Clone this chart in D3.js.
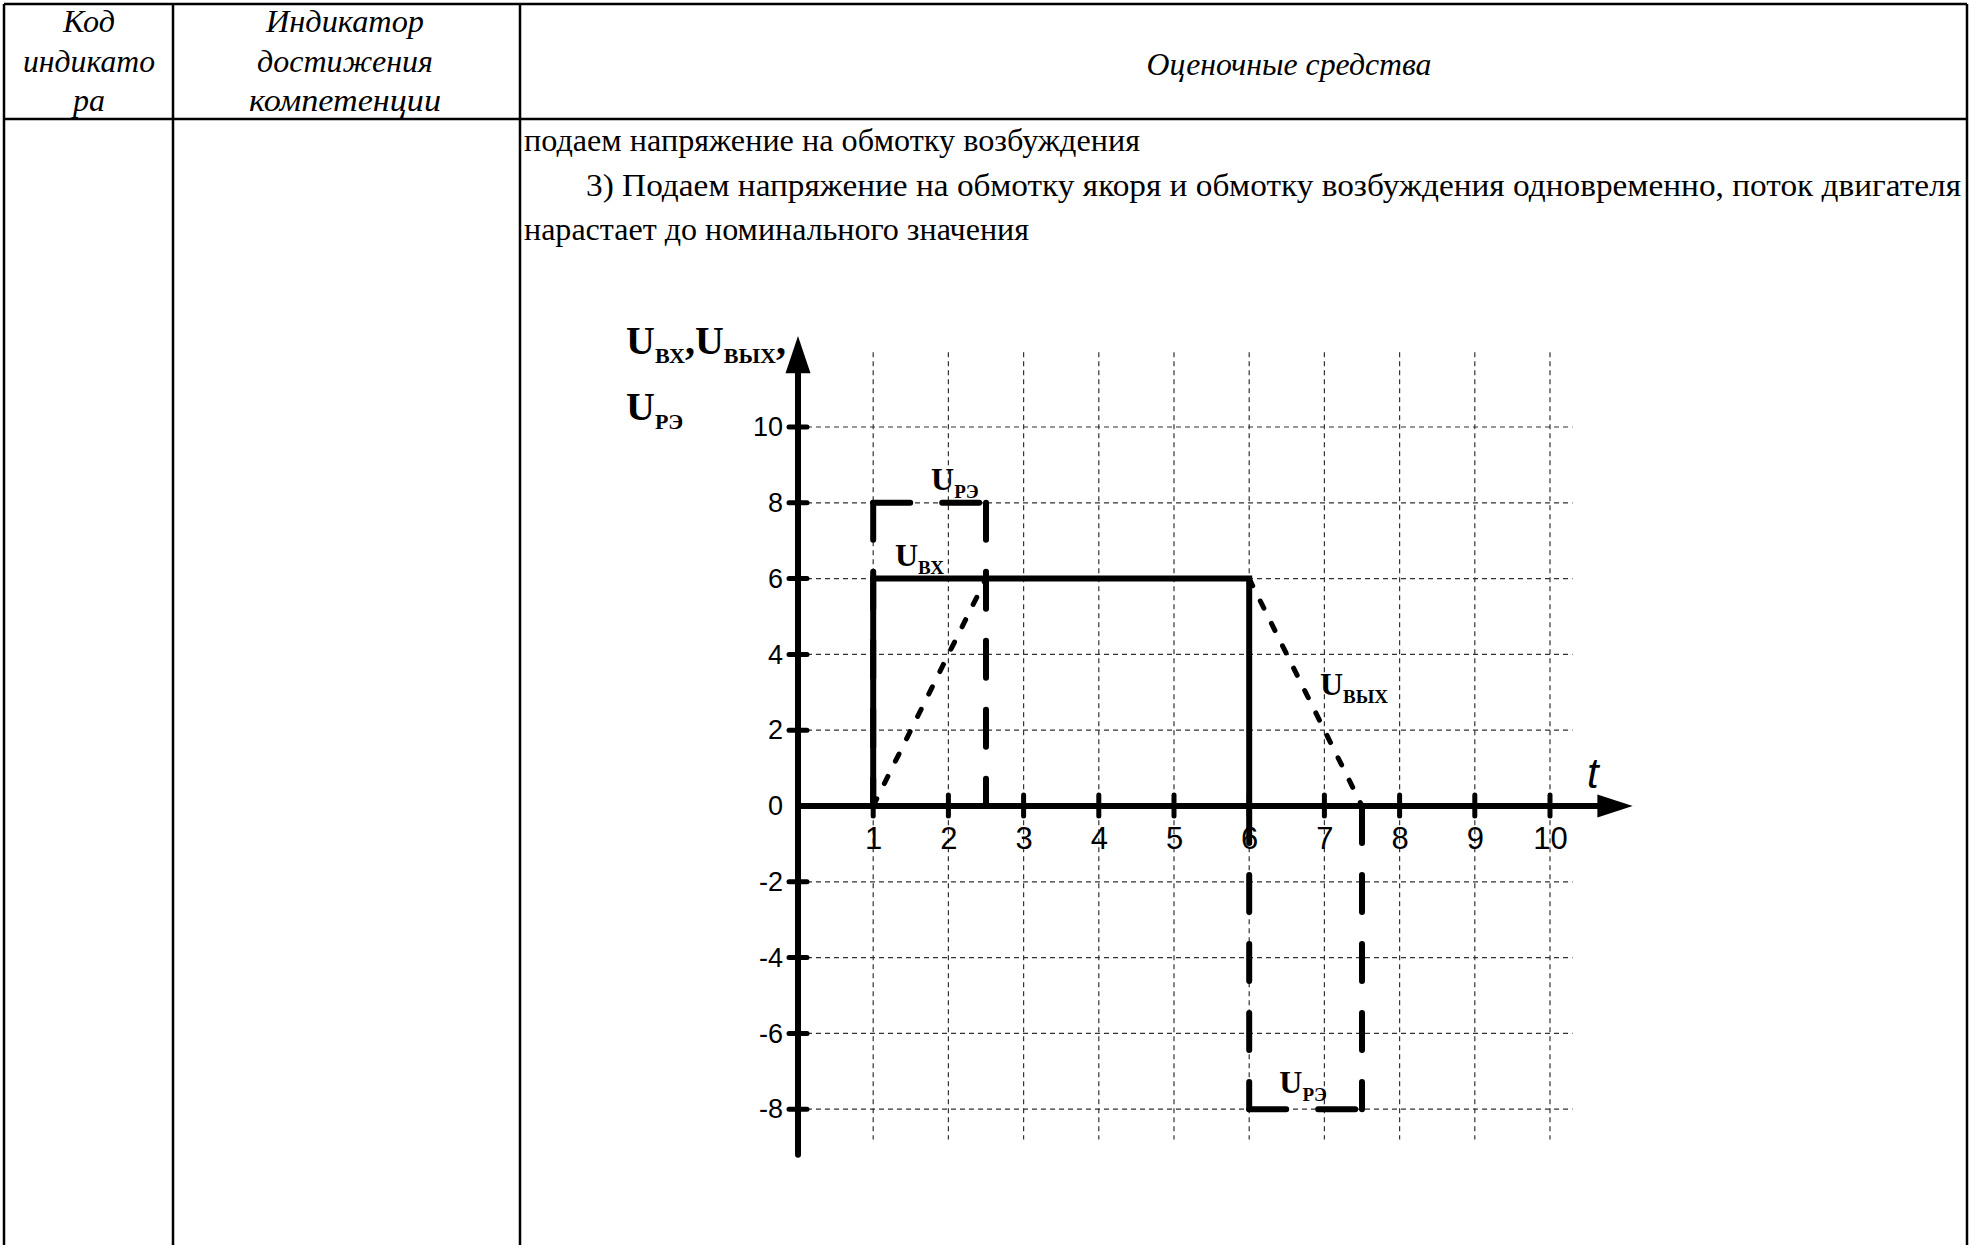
<!DOCTYPE html>
<html>
<head>
<meta charset="utf-8">
<script src="https://cdn.jsdelivr.net/npm/d3@7"></script>
<style>
  html, body { margin: 0; padding: 0; background: #fff; }
  svg { display: block; }
</style>
</head>
<body>
<div id="container"></div>
<script>
// ---- data ----
var tTicks = [1, 2, 3, 4, 5, 6, 7, 8, 9, 10];
var vTicks = [-8, -6, -4, -2, 0, 2, 4, 6, 8, 10];
var gridLevels = [-8, -6, -4, -2, 2, 4, 6, 8, 10];

// input pulse U_вх (solid)
var uInT = [1, 1, 6, 6];
var uInV = [0, 6, 6, 0];

// output U_вых (dotted ramps)
var uOutRiseT = [1, 2.5];
var uOutRiseV = [0, 6];
var uOutFallT = [6, 7.5];
var uOutFallV = [6, 0];

// regulating element U_рэ (long dashes), one segment per side
var uReFromT = [1, 1, 2.5, 6, 7.5, 6];
var uReFromV = [8, 8, 8, 0, 0, -8];
var uReToT = [2.5, 1, 2.5, 6, 7.5, 7.5];
var uReToV = [8, 0, 0, -8, -8, -8];

// curve labels (anchored in data space)
var labelSub = ["РЭ", "ВХ", "ВЫХ", "РЭ"];
var labelT = [1.77, 1.29, 6.94, 6.4];
var labelV = [8.34, 6.33, 2.93, -7.57];

// table texts
var headCol1 = ["Код", "индикато", "ра"];
var headCol2 = ["Индикатор", "достижения", "компетенции"];
var headCol3 = "Оценочные средства";
var bodyLines = [
  "подаем напряжение на обмотку возбуждения",
  "3) Подаем напряжение на обмотку якоря и обмотку возбуждения одновременно, поток двигателя",
  "нарастает до номинального значения"
];

var W = 1970, H = 1245;
var serif = "'Liberation Serif', 'Times New Roman', serif";
var sans = "'Liberation Sans', Arial, sans-serif";

var svg = d3.select("#container").append("svg")
  .attr("width", W).attr("height", H);

// ---- table frame ----
var tbl = svg.append("g").attr("stroke", "#000").attr("stroke-width", 2.5);
tbl.append("line").attr("x1", 4).attr("x2", 1967).attr("y1", 4).attr("y2", 4);
tbl.append("line").attr("x1", 4).attr("x2", 1967).attr("y1", 119).attr("y2", 119);
[4, 173, 520, 1967].forEach(function (cx) {
  tbl.append("line").attr("x1", cx).attr("x2", cx).attr("y1", 4).attr("y2", H);
});

// header texts (italic)
var headBase = [32, 72, 111];
var col1Len = [52, 132, 32];
var col2Len = [158, 176, 192];
headCol1.forEach(function (s, i) {
  svg.append("text").attr("x", 89).attr("y", headBase[i])
    .attr("text-anchor", "middle").attr("font-family", serif)
    .attr("font-style", "italic").attr("font-size", 31)
    .attr("textLength", col1Len[i]).attr("lengthAdjust", "spacingAndGlyphs")
    .text(s);
});
headCol2.forEach(function (s, i) {
  svg.append("text").attr("x", 345).attr("y", headBase[i])
    .attr("text-anchor", "middle").attr("font-family", serif)
    .attr("font-style", "italic").attr("font-size", 31)
    .attr("textLength", col2Len[i]).attr("lengthAdjust", "spacingAndGlyphs")
    .text(s);
});
svg.append("text").attr("x", 1289).attr("y", 75)
  .attr("text-anchor", "middle").attr("font-family", serif)
  .attr("font-style", "italic").attr("font-size", 31)
  .attr("textLength", 285).attr("lengthAdjust", "spacingAndGlyphs")
  .text(headCol3);

// body text
var bodyX = [524, 586, 524];
var bodyY = [151, 196, 240];
var bodyLen = [616, 1375, 505];
bodyLines.forEach(function (s, i) {
  svg.append("text").attr("x", bodyX[i]).attr("y", bodyY[i])
    .attr("font-family", serif).attr("font-size", 32)
    .attr("textLength", bodyLen[i]).attr("lengthAdjust", "spacingAndGlyphs")
    .text(s);
});

// ---- chart ----
var x = d3.scaleLinear().domain([0, 10]).range([798, 1550]);
var y = d3.scaleLinear().domain([0, 10]).range([806, 427]);

// dashed grid
var grid = svg.append("g").attr("stroke", "#333").attr("stroke-width", 1.2)
  .attr("stroke-dasharray", "5,4");
grid.selectAll(".gv").data(tTicks).enter().append("line")
  .attr("x1", function (d) { return x(d); }).attr("x2", function (d) { return x(d); })
  .attr("y1", y(11.97)).attr("y2", y(-8.8));
grid.selectAll(".gh").data(gridLevels).enter().append("line")
  .attr("x1", x(0)).attr("x2", x(10.3))
  .attr("y1", function (d) { return y(d); }).attr("y2", function (d) { return y(d); });

// axes lines + arrows
var ax = svg.append("g");
ax.append("line").attr("x1", x(0)).attr("x2", x(0))
  .attr("y1", y(-9.2)).attr("y2", y(11.5))
  .attr("stroke", "#000").attr("stroke-width", 6).attr("stroke-linecap", "round");
ax.append("path")
  .attr("d", "M" + (x(0) - 12.5) + "," + y(11.42) + "L" + x(0) + "," + y(12.4) + "L" + (x(0) + 12.5) + "," + y(11.42) + "Z")
  .attr("fill", "#000");
ax.append("line").attr("x1", x(0)).attr("x2", x(10.65))
  .attr("y1", y(0)).attr("y2", y(0))
  .attr("stroke", "#000").attr("stroke-width", 6);
ax.append("path")
  .attr("d", "M" + x(10.63) + "," + (y(0) - 11.5) + "L" + x(11.1) + "," + y(0) + "L" + x(10.63) + "," + (y(0) + 11.5) + "Z")
  .attr("fill", "#000");

// tick marks straddling the axes
ax.selectAll(".tx").data(tTicks).enter().append("line")
  .attr("x1", function (d) { return x(d); }).attr("x2", function (d) { return x(d); })
  .attr("y1", y(0) - 11).attr("y2", y(0) + 10)
  .attr("stroke", "#000").attr("stroke-width", 5).attr("stroke-linecap", "round");
ax.selectAll(".ty").data(vTicks.filter(function (d) { return d !== 0; })).enter().append("line")
  .attr("x1", x(0) - 9).attr("x2", x(0) + 9)
  .attr("y1", function (d) { return y(d); }).attr("y2", function (d) { return y(d); })
  .attr("stroke", "#000").attr("stroke-width", 5).attr("stroke-linecap", "round");

// tick labels through d3 axes (plain hyphen for negatives)
var plain = function (d) { return String(d); };
var xAxis = svg.append("g").attr("transform", "translate(0," + y(0) + ")")
  .call(d3.axisBottom(x).tickValues(tTicks).tickSize(0).tickPadding(21).tickFormat(plain));
xAxis.select(".domain").remove();
xAxis.selectAll("text").attr("font-family", sans).attr("font-size", 31).attr("fill", "#000");

var yAxis = svg.append("g").attr("transform", "translate(" + x(0) + ",0)")
  .call(d3.axisLeft(y).tickValues(vTicks).tickSize(0).tickPadding(15).tickFormat(plain));
yAxis.select(".domain").remove();
yAxis.selectAll("text").attr("font-family", sans).attr("font-size", 27).attr("fill", "#000");

// U_вх solid
var lineGen = d3.line().x(function (d) { return x(d[0]); }).y(function (d) { return y(d[1]); });
svg.append("path").datum(d3.zip(uInT, uInV))
  .attr("d", lineGen).attr("fill", "none").attr("stroke", "#000")
  .attr("stroke-width", 6).attr("stroke-linejoin", "miter");

// U_вых dotted
[d3.zip(uOutRiseT, uOutRiseV), d3.zip(uOutFallT, uOutFallV)].forEach(function (pts) {
  svg.append("path").datum(pts).attr("d", lineGen)
    .attr("fill", "none").attr("stroke", "#000").attr("stroke-width", 5)
    .attr("stroke-linecap", "round").attr("stroke-dasharray", "8,17");
});

// U_рэ long dashes
svg.selectAll(".ure").data(d3.range(uReFromT.length)).enter().append("line")
  .attr("x1", function (i) { return x(uReFromT[i]); })
  .attr("y1", function (i) { return y(uReFromV[i]); })
  .attr("x2", function (i) { return x(uReToT[i]); })
  .attr("y2", function (i) { return y(uReToV[i]); })
  .attr("stroke", "#000").attr("stroke-width", 6)
  .attr("stroke-linecap", "round").attr("stroke-dasharray", "37,32");

// curve labels
function uLabel(px, py, sub, big, small, shift, tail) {
  var t = svg.append("text").attr("x", px).attr("y", py)
    .attr("font-family", serif).attr("font-weight", "bold").attr("font-size", big);
  t.append("tspan").text("U");
  t.append("tspan").attr("font-size", small).attr("dy", shift).text(sub);
  if (tail) t.append("tspan").attr("dy", -shift).text(tail);
  return t;
}
labelSub.forEach(function (s, i) {
  uLabel(x(labelT[i]), y(labelV[i]), s, 32, 19, 8, null);
});

// axis titles
var t1 = svg.append("text").attr("x", 626).attr("y", 354)
  .attr("font-family", serif).attr("font-weight", "bold").attr("font-size", 40);
t1.append("tspan").text("U");
t1.append("tspan").attr("font-size", 22).attr("dy", 9).text("ВХ");
t1.append("tspan").attr("dy", -9).text(",");
t1.append("tspan").text("U");
t1.append("tspan").attr("font-size", 22).attr("dy", 9).text("ВЫХ");
t1.append("tspan").attr("dy", -9).text(",");
uLabel(626, 420, "РЭ", 40, 22, 9, null);

svg.append("text").attr("x", x(10.57)).attr("y", y(0.47))
  .attr("text-anchor", "middle").attr("font-family", sans)
  .attr("font-style", "italic").attr("font-size", 42).text("t");
</script>
</body>
</html>
